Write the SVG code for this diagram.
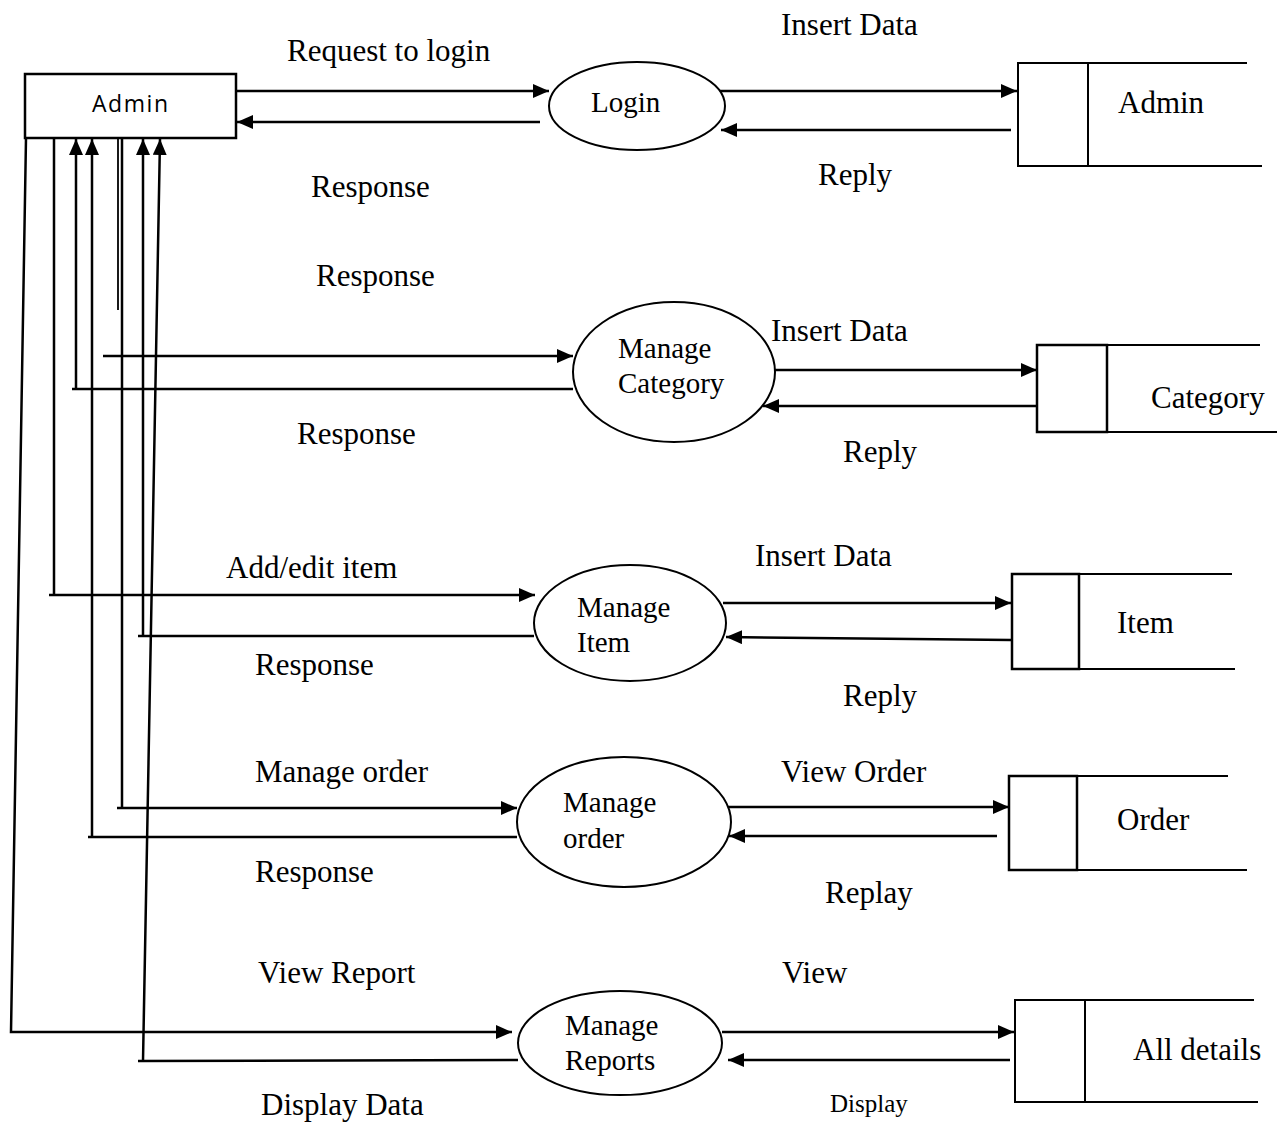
<svg xmlns="http://www.w3.org/2000/svg" width="1281" height="1122" viewBox="0 0 1281 1122">
<defs>
<marker id="ah" markerUnits="userSpaceOnUse" markerWidth="17" markerHeight="15" refX="16" refY="7" orient="auto">
<path d="M0,0 L16,7 L0,14 z" fill="#000"/>
</marker>
<style>
.ln{fill:none;stroke:#000;stroke-width:2.5}
.ar{fill:none;stroke:#000;stroke-width:2.5;marker-end:url(#ah)}
.thin{fill:none;stroke:#000;stroke-width:1.8}
.proc{fill:#fff;stroke:#000;stroke-width:2}
.lbl{font-family:"Liberation Serif","Times New Roman",serif;font-size:31px;fill:#000}
.ptx{font-family:"Liberation Serif","Times New Roman",serif;font-size:29px;fill:#000}
.stx{font-family:"Liberation Serif","Times New Roman",serif;font-size:31px;fill:#000}
</style>
</defs>
<rect width="1281" height="1122" fill="#fff"/>

<g id="connectors">
<path class="ar" d="M236,91 H549"/>
<path class="ar" d="M540,122 H237"/>
<path class="ar" d="M716,91 H1017"/>
<path class="ar" d="M1011,130 H721"/>
<path class="ar" d="M103,356 H573"/>
<path class="ar" d="M573,389 H72 M76,389 V139"/>
<path class="ar" d="M775,370 H1037"/>
<path class="ar" d="M1036,406 H763"/>
<path class="ar" d="M54,138 V595 M49,595 H535"/>
<path class="ar" d="M534,636 H138 M143,636 V139"/>
<path class="ar" d="M723,603 H1011"/>
<path class="ar" d="M1011,640 L726,637"/>
<path class="ar" d="M122,138 V808 M117,808 H517"/>
<path class="ar" d="M517,837 H88 M92,837 V139"/>
<path class="ar" d="M727,807 H1009"/>
<path class="ar" d="M997,836 H729"/>
<path class="ar" d="M26,138 L11,1032 H512"/>
<path class="ar" d="M518,1060 L138,1061 M143,1061 L160,139"/>
<path class="ar" d="M722,1032 H1014"/>
<path class="ar" d="M1010,1060 H728"/>
<path class="thin" d="M118,138 V310"/>
</g>

<g id="admin-entity">
<rect x="25" y="74" width="211" height="64" fill="#fff" stroke="#000" stroke-width="2.5"/>
<text x="92" y="112" font-family="'Open Sans','DejaVu Sans',sans-serif" font-size="23" textLength="76">Admin</text>
</g>

<g id="login">
<ellipse class="proc" cx="637" cy="106" rx="88" ry="44"/>
<text class="ptx" x="591" y="112">Login</text>
</g>
<g id="manage-category">
<ellipse class="proc" cx="674" cy="372" rx="101" ry="70"/>
<text class="ptx" x="618" y="358">Manage</text>
<text class="ptx" x="618" y="393">Category</text>
</g>
<g id="manage-item">
<ellipse class="proc" cx="630" cy="623" rx="96" ry="58"/>
<text class="ptx" x="577" y="617">Manage</text>
<text class="ptx" x="577" y="652">Item</text>
</g>
<g id="manage-order">
<ellipse class="proc" cx="624" cy="822" rx="107" ry="65"/>
<text class="ptx" x="563" y="812">Manage</text>
<text class="ptx" x="563" y="848">order</text>
</g>
<g id="manage-reports">
<ellipse class="proc" cx="620" cy="1043" rx="102" ry="52"/>
<text class="ptx" x="565" y="1035">Manage</text>
<text class="ptx" x="565" y="1070">Reports</text>
</g>

<g id="store-admin">
<rect x="1018" y="63" width="70" height="103" fill="#fff" stroke="#000" stroke-width="2"/>
<path class="thin" d="M1064,63 H1247 M1078,166 H1262"/>
<text class="stx" x="1118" y="113">Admin</text>
</g>
<g id="store-category">
<rect x="1037" y="345" width="70" height="87" fill="#fff" stroke="#000" stroke-width="2.5"/>
<path class="thin" d="M1107,345 H1260 M1107,432 H1277"/>
<text class="stx" x="1151" y="408">Category</text>
</g>
<g id="store-item">
<rect x="1012" y="574" width="67" height="95" fill="#fff" stroke="#000" stroke-width="2.5"/>
<path class="thin" d="M1079,574 H1232 M1052,669 H1235"/>
<text class="stx" x="1117" y="633">Item</text>
</g>
<g id="store-order">
<rect x="1009" y="776" width="68" height="94" fill="#fff" stroke="#000" stroke-width="2.5"/>
<path class="thin" d="M1077,776 H1228 M1077,870 H1247"/>
<text class="stx" x="1117" y="830">Order</text>
</g>
<g id="store-all-details">
<rect x="1015" y="1000" width="70" height="102" fill="#fff" stroke="#000" stroke-width="2"/>
<path class="thin" d="M1085,1000 H1254 M1085,1102 H1258"/>
<text class="stx" x="1133" y="1060">All details</text>
</g>

<g id="labels">
<text class="lbl" x="287" y="61">Request to login</text>
<text class="lbl" x="781" y="35">Insert Data</text>
<text class="lbl" x="311" y="197">Response</text>
<text class="lbl" x="818" y="185">Reply</text>
<text class="lbl" x="316" y="286">Response</text>
<text class="lbl" x="771" y="341">Insert Data</text>
<text class="lbl" x="297" y="444">Response</text>
<text class="lbl" x="843" y="462">Reply</text>
<text class="lbl" x="226" y="578">Add/edit item</text>
<text class="lbl" x="755" y="566">Insert Data</text>
<text class="lbl" x="255" y="675">Response</text>
<text class="lbl" x="843" y="706">Reply</text>
<text class="lbl" x="255" y="782">Manage order</text>
<text class="lbl" x="781" y="782">View Order</text>
<text class="lbl" x="255" y="882">Response</text>
<text class="lbl" x="825" y="903">Replay</text>
<text class="lbl" x="258" y="983">View Report</text>
<text class="lbl" x="782" y="983">View</text>
<text class="lbl" x="261" y="1115">Display Data</text>
<text class="lbl" x="830" y="1112" style="font-size:25px">Display</text>
</g>
</svg>
